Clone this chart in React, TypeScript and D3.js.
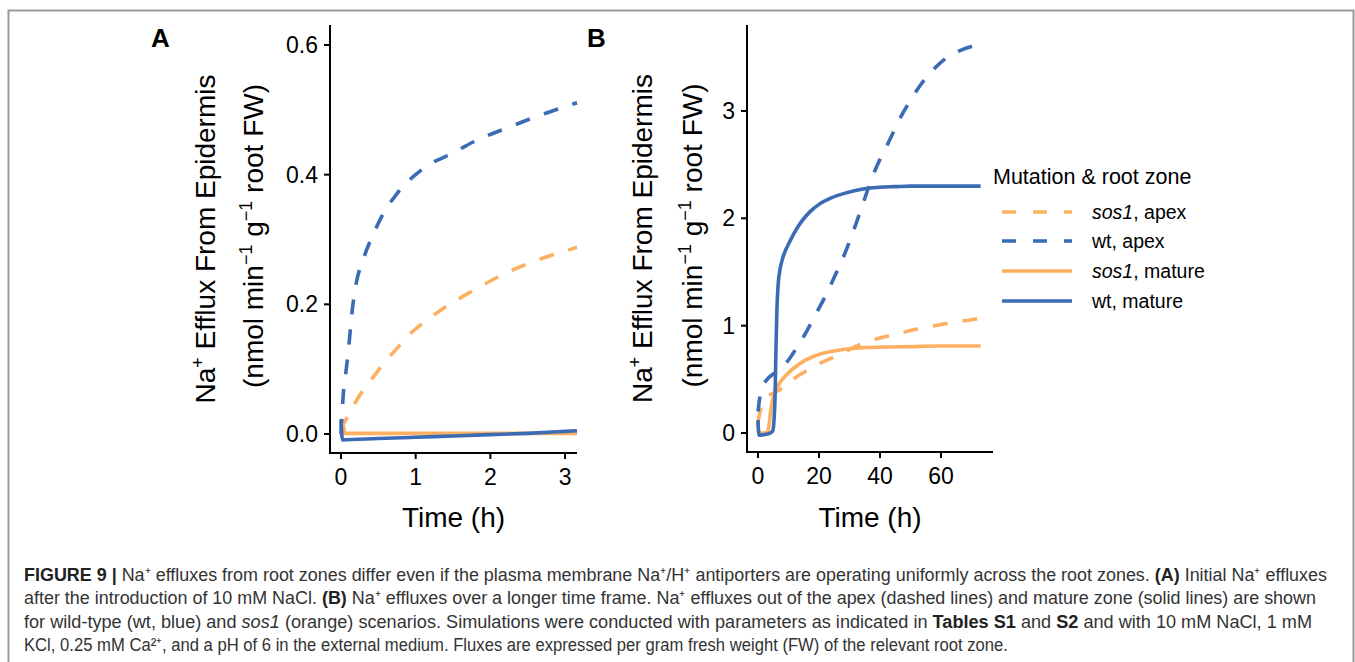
import React from "react";
import * as d3 from "d3";

const ORANGE = "#FDB062";
const BLUE = "#3A6BB4";

// ---------- Panel A data (Time h, efflux) ----------
const aSos1ApexT = [0, 0.03, 0.08, 0.15, 0.21, 0.3, 0.4, 0.5, 0.6, 0.75, 0.9, 1.0, 1.2, 1.4, 1.6, 1.8, 2.0, 2.2, 2.4, 2.6, 2.8, 3.0, 3.16];
const aSos1ApexV = [0.005, 0.015, 0.025, 0.04, 0.052, 0.068, 0.083, 0.098, 0.113, 0.132, 0.152, 0.162, 0.18, 0.196, 0.21, 0.223, 0.236, 0.248, 0.258, 0.267, 0.275, 0.282, 0.288];

const aWtApexT = [0, 0.03, 0.06, 0.1, 0.15, 0.2, 0.3, 0.4, 0.5, 0.6, 0.7, 0.8, 0.9, 1.0, 1.2, 1.4, 1.6, 1.8, 2.0, 2.2, 2.4, 2.6, 2.8, 3.0, 3.16];
const aWtApexV = [0.0, 0.06, 0.09, 0.13, 0.19, 0.23, 0.27, 0.3, 0.325, 0.347, 0.363, 0.378, 0.39, 0.4, 0.417, 0.428, 0.44, 0.452, 0.462, 0.471, 0.48, 0.489, 0.497, 0.505, 0.511];

const aSos1MatureT = [0.01, 0.03, 0.05, 0.5, 1.0, 2.0, 3.16];
const aSos1MatureV = [0.0, 0.015, 0.001, 0.001, 0.001, 0.001, 0.001];

const aWtMatureT = [0, 0.02, 0.5, 1.0, 1.5, 2.0, 2.5, 3.0, 3.16];
const aWtMatureV = [0.022, -0.009, -0.007, -0.005, -0.003, -0.001, 0.001, 0.004, 0.005];

// ---------- Panel B data ----------
const bSos1ApexT = [0, 1, 2, 3, 5, 7, 10, 13, 16, 20, 25, 30, 35, 40, 45, 50, 55, 60, 65, 70, 73];
const bSos1ApexV = [0.1, 0.24, 0.31, 0.34, 0.37, 0.4, 0.46, 0.53, 0.58, 0.645, 0.71, 0.78, 0.84, 0.885, 0.92, 0.955, 0.985, 1.01, 1.035, 1.055, 1.07];

const bWtApexT = [0, 1, 2, 3, 5, 7, 10, 13, 16, 19, 22, 25, 28, 31, 34, 37, 40, 43, 46, 50, 54, 58, 62, 66, 70, 73];
const bWtApexV = [0.2, 0.4, 0.46, 0.5, 0.55, 0.59, 0.68, 0.81, 0.95, 1.11, 1.27, 1.45, 1.64, 1.86, 2.1, 2.35, 2.55, 2.72, 2.9, 3.1, 3.27, 3.4, 3.5, 3.56, 3.6, 3.62];

const bSos1MatureT = [0, 0.3, 1, 2, 3, 3.5, 4, 4.5, 5, 6, 7, 8, 10, 12, 15, 18, 21, 25, 30, 35, 40, 50, 60, 73];
const bSos1MatureV = [0.1, 0.0, 0.0, 0.0, 0.01, 0.05, 0.17, 0.27, 0.33, 0.41, 0.46, 0.5, 0.56, 0.61, 0.67, 0.71, 0.74, 0.765, 0.785, 0.795, 0.8, 0.805, 0.81, 0.81];

const bWtMatureT = [0, 0.3, 1, 2, 3, 4, 4.8, 5.2, 5.6, 5.9, 6.2, 6.6, 7.2, 8, 9, 10, 12, 14, 17, 20, 24, 28, 32, 36, 40, 45, 50, 60, 73];
const bWtMatureV = [0.12, -0.02, -0.02, -0.015, -0.01, 0.0, 0.02, 0.1, 0.35, 0.8, 1.15, 1.38, 1.52, 1.62, 1.7, 1.76, 1.87, 1.96, 2.06, 2.13, 2.19, 2.23, 2.26, 2.28, 2.29, 2.295, 2.3, 2.3, 2.3];

// ---------- ticks ----------
const aXTicks = [0, 1, 2, 3];
const aYTicks = [0, 0.2, 0.4, 0.6];
const bXTicks = [0, 20, 40, 60];
const bYTicks = [0, 1, 2, 3];

// ---------- legend ----------
const legendItems = [
  { mut: "sos1", zone: "apex", color: ORANGE, dashed: true, italic: true },
  { mut: "wt", zone: "apex", color: BLUE, dashed: true, italic: false },
  { mut: "sos1", zone: "mature", color: ORANGE, dashed: false, italic: true },
  { mut: "wt", zone: "mature", color: BLUE, dashed: false, italic: false },
];

type Seg = { t: string; b?: boolean; i?: boolean };
const captionLines: { segs: Seg[]; end: number }[] = [
  {
    end: 1327,
    segs: [
      { t: "FIGURE 9 | ", b: true },
      { t: "Na⁺ effluxes from root zones differ even if the plasma membrane Na⁺/H⁺ antiporters are operating uniformly across the root zones. " },
      { t: "(A)", b: true },
      { t: " Initial Na⁺ effluxes" },
    ],
  },
  {
    end: 1316,
    segs: [
      { t: "after the introduction of 10 mM NaCl. " },
      { t: "(B)", b: true },
      { t: " Na⁺ effluxes over a longer time frame. Na⁺ effluxes out of the apex (dashed lines) and mature zone (solid lines) are shown" },
    ],
  },
  {
    end: 1312,
    segs: [
      { t: "for wild-type (wt, blue) and " },
      { t: "sos1", i: true },
      { t: " (orange) scenarios. Simulations were conducted with parameters as indicated in " },
      { t: "Tables S1", b: true },
      { t: " and " },
      { t: "S2", b: true },
      { t: " and with 10 mM NaCl, 1 mM" },
    ],
  },
  {
    end: 1008,
    segs: [
      { t: "KCl, 0.25 mM Ca²⁺, and a pH of 6 in the external medium. Fluxes are expressed per gram fresh weight (FW) of the relevant root zone." },
    ],
  },
];

const FONT = "Arial, 'Liberation Sans', Helvetica, sans-serif";

function zip(t: number[], v: number[]): [number, number][] {
  return t.map((d, i) => [d, v[i]] as [number, number]);
}

type PanelProps = {
  letter: string;
  letterX: number;
  xDomain: [number, number];
  xRange: [number, number];
  yDomain: [number, number];
  yRange: [number, number];
  xTicks: number[];
  yTicks: number[];
  yFmt: (d: number) => string;
  series: { data: [number, number][]; color: string; dashed: boolean }[];
  titleX1: number;
  titleX2: number;
};

function Panel(p: PanelProps) {
  const x = d3.scaleLinear().domain(p.xDomain).range(p.xRange);
  const y = d3.scaleLinear().domain(p.yDomain).range(p.yRange);
  const line = d3
    .line<[number, number]>()
    .x((d) => x(d[0]))
    .y((d) => y(d[1]))
    .curve(d3.curveMonotoneX);
  const x0 = p.xRange[0];
  const x1 = p.xRange[1];
  const yb = p.yRange[0];
  const yt = p.yRange[1];
  const yMid = (yb + yt) / 2 + 25;
  const xMid = (x0 + x1) / 2;
  return (
    <g>
      <text x={p.letterX} y={47} fontFamily={FONT} fontWeight="bold" fontSize={26} fill="#000">
        {p.letter}
      </text>
      {p.series.map((s, i) => (
        <path
          key={i}
          d={line(s.data) || ""}
          fill="none"
          stroke={s.color}
          strokeWidth={3.6}
          strokeDasharray={s.dashed ? "15 15" : undefined}
          strokeLinecap="butt"
          strokeLinejoin="round"
        />
      ))}
      {/* axes */}
      <line x1={x0} x2={x1} y1={yb} y2={yb} stroke="#000" strokeWidth={2} />
      <line x1={x0} x2={x0} y1={yb + 1} y2={yt} stroke="#000" strokeWidth={2} />
      {p.xTicks.map((t) => (
        <g key={"xt" + t}>
          <line x1={x(t)} x2={x(t)} y1={yb} y2={yb + 6} stroke="#000" strokeWidth={2} />
          <text x={x(t)} y={yb + 32} textAnchor="middle" fontFamily={FONT} fontSize={23} fill="#000">
            {String(t)}
          </text>
        </g>
      ))}
      {p.yTicks.map((t) => (
        <g key={"yt" + t}>
          <line x1={x0 - 6} x2={x0} y1={y(t)} y2={y(t)} stroke="#000" strokeWidth={2} />
          <text x={x0 - 12} y={y(t) + 8} textAnchor="end" fontFamily={FONT} fontSize={23} fill="#000">
            {p.yFmt(t)}
          </text>
        </g>
      ))}
      <text x={xMid} y={527} textAnchor="middle" fontFamily={FONT} fontSize={28} fill="#000">
        Time (h)
      </text>
      <text
        transform={`translate(${p.titleX1},${yMid - 25}) rotate(-90)`}
        textAnchor="middle"
        fontFamily={FONT}
        fontSize={28}
        fill="#000"
      >
        <tspan>Na</tspan>
        <tspan dy={-11} fontSize={18}>+</tspan>
        <tspan dy={11}> Efflux From Epidermis</tspan>
      </text>
      <text
        transform={`translate(${p.titleX2},${yMid - 28}) rotate(-90)`}
        textAnchor="middle"
        fontFamily={FONT}
        fontSize={28}
        fill="#000"
      >
        <tspan>(nmol min</tspan>
        <tspan dy={-11} fontSize={18}>−1</tspan>
        <tspan dy={11}> g</tspan>
        <tspan dy={-11} fontSize={18}>−1</tspan>
        <tspan dy={11}> root FW)</tspan>
      </text>
    </g>
  );
}

export default function App() {
  const aSeries = [
    { data: zip(aSos1ApexT, aSos1ApexV), color: ORANGE, dashed: true },
    { data: zip(aWtApexT, aWtApexV), color: BLUE, dashed: true },
    { data: zip(aSos1MatureT, aSos1MatureV), color: ORANGE, dashed: false },
    { data: zip(aWtMatureT, aWtMatureV), color: BLUE, dashed: false },
  ];
  const bSeries = [
    { data: zip(bSos1ApexT, bSos1ApexV), color: ORANGE, dashed: true },
    { data: zip(bWtApexT, bWtApexV), color: BLUE, dashed: true },
    { data: zip(bSos1MatureT, bSos1MatureV), color: ORANGE, dashed: false },
    { data: zip(bWtMatureT, bWtMatureV), color: BLUE, dashed: false },
  ];
  const legendY = [212, 241, 271, 301];
  return (
    <svg
      width={1355}
      height={662}
      style={{ position: "absolute", left: 0, top: 0, background: "#fff" }}
    >
      <rect x={0} y={0} width={1355} height={662} fill="#fff" />
      {/* frame */}
      <path d="M8.5,662 L8.5,10.5 L1353.5,10.5 L1353.5,662" fill="none" stroke="#9a9a9a" strokeWidth={2} />
      <Panel
        letter="A"
        letterX={151}
        xDomain={[-0.147, 3.16]}
        xRange={[330, 577]}
        yDomain={[-0.0293, 0.6308]}
        yRange={[453, 25]}
        xTicks={aXTicks}
        yTicks={aYTicks}
        yFmt={d3.format(".1f")}
        series={aSeries}
        titleX1={215}
        titleX2={263}
      />
      <Panel
        letter="B"
        letterX={587}
        xDomain={[-3.607, 77.05]}
        xRange={[747, 993]}
        yDomain={[-0.177, 3.801]}
        yRange={[452, 25]}
        xTicks={bXTicks}
        yTicks={bYTicks}
        yFmt={(d) => String(d)}
        series={bSeries}
        titleX1={652}
        titleX2={702}
      />
      {/* legend */}
      <text x={993} y={184} fontFamily={FONT} fontSize={21.5} fill="#000">
        Mutation &amp; root zone
      </text>
      {legendItems.map((it, i) => (
        <g key={i}>
          <line
            x1={1002}
            x2={1072}
            y1={legendY[i]}
            y2={legendY[i]}
            stroke={it.color}
            strokeWidth={3.6}
            strokeDasharray={it.dashed ? "14 17" : undefined}
          />
          <text x={1092} y={legendY[i] + 7} fontFamily={FONT} fontSize={19.5} fill="#000">
            <tspan fontStyle={it.italic ? "italic" : "normal"}>{it.mut}</tspan>
            <tspan>{", " + it.zone}</tspan>
          </text>
        </g>
      ))}
      {/* caption */}
      {captionLines.map((ln, li) => (
        <text
          key={li}
          x={24}
          y={581 + li * 23.3}
          fontFamily="'Liberation Sans Narrow', 'Arial Narrow', 'Liberation Sans', Arial, sans-serif"
          fontSize={17.5}
          fill="#333"
          textLength={ln.end - 24}
          lengthAdjust="spacingAndGlyphs"
        >
          {ln.segs.map((s, si) => (
            <tspan
              key={si}
              fontWeight={s.b ? "bold" : "normal"}
              fontStyle={s.i ? "italic" : "normal"}
              fill={s.b ? "#222" : undefined}
            >
              {s.t}
            </tspan>
          ))}
        </text>
      ))}
    </svg>
  );
}
